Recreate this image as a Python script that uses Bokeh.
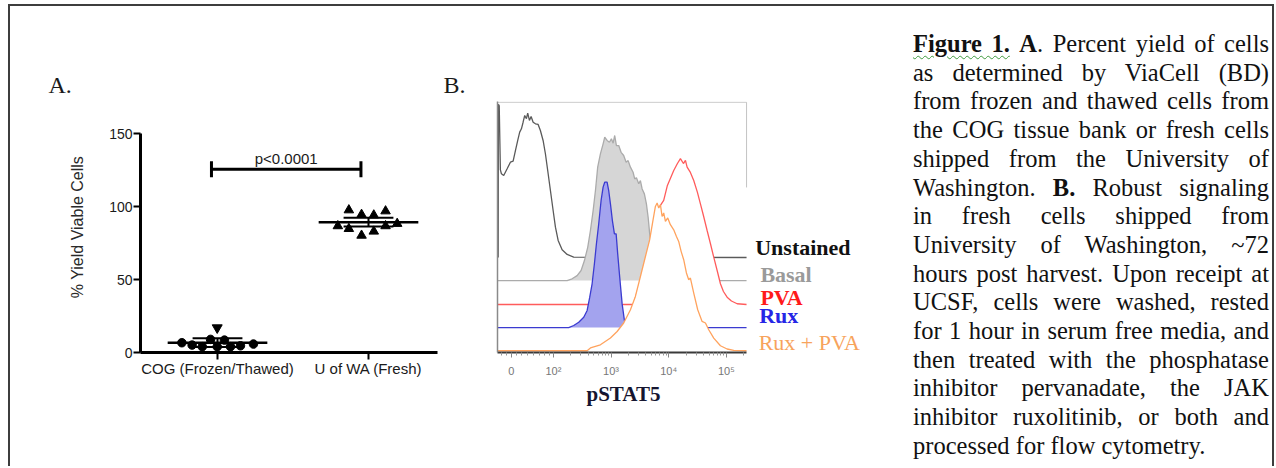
import numpy as np
from bokeh.plotting import figure
from bokeh.models import FixedTicker, Label, Range1d, Div, Title
from bokeh.layouts import row
from bokeh.embed import file_html
from bokeh.resources import INLINE

# ---------------- Panel A data ----------------
groups = ["COG (Frozen/Thawed)", "U of WA (Fresh)"]
group_pos = [1, 2]
group_mean = [6.7, 89.4]
group_err = [3.0, 3.0]
y_ticks_a = [0, 50, 100, 150]

cog_x = [0.764, 0.832, 0.899, 0.954, 0.998, 1.046, 1.086, 1.152, 1.238]
cog_y = [6.7, 5.1, 4.0, 9.0, 4.0, 8.5, 4.0, 4.6, 5.8]
cog_out_x = [0.998]
cog_out_y = [17.0]
uw_x = [1.797, 1.870, 1.870, 1.954, 1.954, 2.035, 2.035, 2.113, 2.113, 2.190]
uw_y = [86.8, 97.7, 84.9, 94.6, 80.3, 94.2, 83.1, 97.0, 86.8, 88.4]

p_text = "p<0.0001"
bracket_x = [0.96, 1.95]
bracket_y = 125.7

# ---------------- Panel B data ----------------
b_major_ticks = [1.27, 2, 3, 4, 5]
b_tick_labels = ["0", "10\u00b2", "10\u00b3", "10\u2074", "10\u2075"]
b_names = ["Unstained", "Basal", "PVA", "Rux", "Rux + PVA"]
b_offsets = [63.9, 48.1, 31.7, 15.9, 0.0]

unstained_x = [1.042, 1.046, 1.06, 1.08, 1.098, 1.138, 1.197, 1.254, 1.301, 1.341, 1.381, 1.415,
               1.445, 1.474, 1.502, 1.532, 1.554, 1.584, 1.613, 1.648, 1.688, 1.735, 1.774, 1.821,
               1.861, 1.901, 1.948, 1.995, 2.035, 2.082, 2.151, 2.238, 2.352, 5.35]
unstained_y = [0, 105, 104, 60, 57.4, 56.2, 60.8, 65.3, 66.0, 73.3, 80.2, 85.9,
               88.2, 92.7, 97.3, 95.1, 98.9, 93.9, 96.6, 92.7, 91.6, 91.2, 87.0, 80.2,
               71.1, 59.6, 45.9, 32.2, 20.8, 11.7, 5.3, 2.1, 0.2, 0]

basal_x = [1.03, 2.238, 2.324, 2.411, 2.480, 2.538, 2.595, 2.642, 2.689, 2.729, 2.768, 2.815,
           2.862, 2.890, 2.931, 2.971, 3.006, 3.036, 3.063, 3.093, 3.133, 3.174, 3.219, 3.261,
           3.296, 3.336, 3.382, 3.410, 3.440, 3.480, 3.509, 3.539, 3.578, 3.613, 3.643, 3.670,
           3.700, 3.740, 3.799, 3.856, 5.35]
basal_y = [0, 0, 1.2, 3.4, 6.9, 13.7, 22.8, 34.3, 48.0, 61.7, 77.7, 86.8,
           93.7, 98.2, 96.0, 94.8, 97.1, 94.1, 99.4, 92.5, 92.5, 87.9, 85.7, 81.1,
           82.2, 77.7, 74.2, 69.7, 70.4, 66.3, 68.5, 62.8, 59.4, 52.5, 43.4, 32.0,
           20.6, 9.1, 2.3, 0, 0]

pva_x = [1.03, 3.388, 3.509, 3.631, 3.735, 3.856, 3.913, 3.977, 4.087, 4.151, 4.203, 4.255,
         4.290, 4.319, 4.376, 4.434, 4.498, 4.550, 4.602, 4.666, 4.723, 4.781, 4.840, 4.897,
         4.949, 5.013, 5.088, 5.187, 5.35]
pva_y = [0, 0, 16.4, 32.2, 56.2, 67.9, 71.3, 81.6, 91.8, 96.6, 99.9, 96.6,
         98.7, 94.1, 90.5, 85.0, 76.8, 69.0, 61.0, 50.7, 41.8, 32.4, 23.3, 14.2,
         8.9, 5.0, 2.4, 0.5, 0]

rux_x = [1.03, 2.265, 2.352, 2.439, 2.526, 2.585, 2.630, 2.671, 2.711, 2.746, 2.786, 2.827,
         2.862, 2.890, 2.931, 2.959, 2.989, 3.023, 3.058, 3.088, 3.115, 3.150, 3.192, 3.232,
         3.266, 5.35]
rux_y = [0, 0, 1.4, 3.6, 7.1, 11.7, 20.8, 30.0, 43.7, 57.4, 71.1, 87.1,
         96.2, 99.6, 99.6, 93.9, 84.8, 73.3, 64.2, 64.2, 50.5, 34.5, 16.2, 4.8,
         0, 0]

ruxpva_x = [1.03, 2.585, 2.642, 2.815, 2.989, 3.105, 3.219, 3.336, 3.422, 3.509, 3.596, 3.670,
            3.729, 3.769, 3.799, 3.827, 3.856, 3.885, 3.913, 3.943, 3.983, 4.029, 4.087, 4.134,
            4.173, 4.215, 4.260, 4.307, 4.347, 4.376, 4.434, 4.503, 4.579, 4.637, 4.694, 4.781,
            4.897, 5.013, 5.128, 5.35]
ruxpva_y = [0, 0, 1.9, 4.1, 8.7, 13.2, 19.0, 28.1, 37.2, 50.9, 64.6, 76.1,
            89.8, 98.9, 101.2, 97.8, 100.1, 92.0, 94.4, 88.6, 91.0, 86.4, 82.9, 78.3,
            74.9, 68.1, 62.4, 53.3, 48.7, 49.8, 39.5, 28.1, 20.1, 19.0, 14.4, 8.7,
            3.4, 1.2, 0.2, 0]

# ---------------- Caption ----------------
caption_lines = [
    "Figure 1. A. Percent yield of cells",
    "as determined by ViaCell (BD)",
    "from frozen and thawed cells from",
    "the COG tissue bank or fresh cells",
    "shipped from the University of",
    "Washington. B. Robust signaling",
    "in fresh cells shipped from",
    "University of Washington, ~72",
    "hours post harvest. Upon receipt at",
    "UCSF, cells were washed, rested",
    "for 1 hour in serum free media, and",
    "then treated with the phosphatase",
    "inhibitor pervanadate, the JAK",
    "inhibitor ruxolitinib, or both and",
    "processed for flow cytometry.",
]

SANS = "Liberation Sans"
SERIF = "Liberation Serif"
H = 460
TOP = 95      # both frames start at the same height
BOTTOM = 114

# ================= Panel A =================
pa = figure(width=430, height=H, x_range=Range1d(0.49, 2.457), y_range=Range1d(0, 172.2),
            output_backend="svg", toolbar_location=None,
            min_border_left=130, min_border_right=3, min_border_top=TOP, min_border_bottom=BOTTOM)
pa.title = Title(text="A.", align="left", offset=-92, standoff=7, text_font=SERIF,
                 text_font_size="24px", text_font_style="normal", text_color="#1a1a1a")
pa.outline_line_color = None
pa.grid.visible = False
pa.background_fill_color = None

xa = pa.xaxis[0]
xa.ticker = FixedTicker(ticks=group_pos)
xa.major_label_overrides = {group_pos[0]: groups[0], group_pos[1]: groups[1]}
xa.axis_line_width = 3
xa.axis_line_color = "black"
xa.major_tick_line_width = 2
xa.major_tick_out = 7
xa.major_tick_in = 0
xa.minor_tick_line_color = None
xa.major_label_text_font = SANS
xa.major_label_text_font_size = "15px"
xa.major_label_text_color = "#1a1a1a"
xa.major_label_standoff = 0

ya = pa.yaxis[0]
ya.ticker = FixedTicker(ticks=y_ticks_a)
ya.bounds = (0, 150)
ya.axis_line_width = 3
ya.axis_line_color = "black"
ya.major_tick_line_width = 2
ya.major_tick_out = 7
ya.major_tick_in = 0
ya.minor_tick_line_color = None
ya.major_label_text_font = SANS
ya.major_label_text_font_size = "14px"
ya.major_label_text_color = "#1a1a1a"
ya.major_label_standoff = 1
ya.axis_label = "% Yield Viable Cells"
ya.axis_label_text_font = SANS
ya.axis_label_text_font_style = "normal"
ya.axis_label_text_font_size = "16px"
ya.axis_label_text_color = "#2a2a2a"
ya.axis_label_standoff = 20

half_w = 0.33
cap_w = 0.165
pa.segment(x0=[p - half_w for p in group_pos], x1=[p + half_w for p in group_pos],
           y0=group_mean, y1=group_mean, line_color="black", line_width=2.5)
pa.segment(x0=group_pos, x1=group_pos,
           y0=[m - e for m, e in zip(group_mean, group_err)],
           y1=[m + e for m, e in zip(group_mean, group_err)], line_color="black", line_width=2)
for sgn in (-1, 1):
    yy = [m + sgn * e for m, e in zip(group_mean, group_err)]
    pa.segment(x0=[p - cap_w for p in group_pos], x1=[p + cap_w for p in group_pos],
               y0=yy, y1=yy, line_color="black", line_width=2)

pa.scatter(cog_x, cog_y, marker="circle", size=8.5, color="black")
pa.scatter(cog_out_x, cog_out_y, marker="inverted_triangle", size=10, color="black")
pa.scatter(uw_x, uw_y, marker="triangle", size=9.5, color="black")

pa.segment(x0=[bracket_x[0]], x1=[bracket_x[1]], y0=[bracket_y], y1=[bracket_y],
           line_color="black", line_width=3)
pa.segment(x0=bracket_x, x1=bracket_x, y0=[bracket_y - 5.5] * 2, y1=[bracket_y + 5.5] * 2,
           line_color="black", line_width=3)
pa.add_layout(Label(x=sum(bracket_x) / 2, y=bracket_y + 7.4, text=p_text, text_font=SANS,
                    text_font_size="15px", text_color="#1a1a1a", text_align="center",
                    text_baseline="middle"))

# ================= Panel B =================
X_START, X_END, Y_TOP = 1.03, 5.35, 170.8   # edges of the histogram box
pb = figure(width=450, height=H, x_range=Range1d(X_START, 7.847), y_range=Range1d(-1.2, Y_TOP),
            output_backend="svg", toolbar_location=None,
            min_border_left=57, min_border_right=0, min_border_top=TOP, min_border_bottom=BOTTOM)
pb.title = Title(text="B.", align="left", offset=-54, standoff=7, text_font=SERIF,
                 text_font_size="24px", text_font_style="normal", text_color="#1a1a1a")
pb.outline_line_color = None
pb.grid.visible = False
pb.background_fill_color = None

fills = ["white", "#d6d6d6", "white", "#a3a3ee", "white"]
lines = ["#5a5a5a", "#ababab", "#ff5c5c", "#3b3bd0", "#ffa35e"]
series = [(unstained_x, unstained_y), (basal_x, basal_y), (pva_x, pva_y),
          (rux_x, rux_y), (ruxpva_x, ruxpva_y)]
for (sx, sy), off, fc, lc in zip(series, b_offsets, fills, lines):
    sx = np.array(sx, dtype=float)
    top = np.array(sy, dtype=float) + off
    pb.varea(x=sx, y1=np.full_like(sx, off), y2=top, fill_color=fc, fill_alpha=1.0)
    pb.line(sx, top, line_color=lc, line_width=1.3)

# box border: top edge and upper part of the right edge
pb.segment(x0=[X_START], x1=[X_END], y0=[Y_TOP - 0.5], y1=[Y_TOP - 0.5],
           line_color="#c4c4c4", line_width=1)
pb.segment(x0=[X_END], x1=[X_END], y0=[111.9], y1=[Y_TOP - 0.5],
           line_color="#c4c4c4", line_width=1)

xb = pb.xaxis[0]
minor = [d + np.log10(k) for d in (2, 3, 4) for k in range(2, 10)] + [5 + np.log10(2)]
minor += [1.1, 1.18, 1.36, 1.45, 1.55, 1.65, 1.75, 1.85, 1.93]
xb.ticker = FixedTicker(ticks=b_major_ticks, minor_ticks=sorted(minor))
xb.bounds = (X_START, X_END)
xb.major_label_overrides = dict(zip(b_major_ticks, b_tick_labels))
xb.axis_line_color = "#3a3a3a"
xb.axis_line_width = 2
xb.major_tick_line_color = "#888888"
xb.minor_tick_line_color = "#999999"
xb.major_tick_out = 5
xb.major_tick_in = 0
xb.minor_tick_out = 3
xb.minor_tick_in = 0
xb.major_label_text_font = SANS
xb.major_label_text_font_size = "11px"
xb.major_label_text_color = "#777777"
xb.major_label_standoff = 7

pb.add_layout(Title(text="pSTAT5", align="left", offset=89, standoff=0, text_font=SERIF,
                    text_font_size="21px", text_font_style="bold", text_color="#151530"),
              "below")

yb = pb.yaxis[0]
yb.ticker = FixedTicker(ticks=[])
yb.axis_line_color = "#8a8a8a"
yb.axis_line_width = 1.5
yb.major_label_text_font_size = "0px"
yb.major_tick_line_color = None
yb.minor_tick_line_color = None

legend_x = [5.50, 5.59, 5.59, 5.57, 5.56]
legend_y = [70.7, 52.2, 36.7, 23.9, 5.8]
legend_colors = ["#111111", "#9a9a9a", "#ff1a1a", "#2626e6", "#f7a35c"]
legend_styles = ["bold", "bold", "bold", "bold", "normal"]
for name, lx, ly, lc, st in zip(b_names, legend_x, legend_y, legend_colors, legend_styles):
    pb.add_layout(Label(x=lx, y=ly, text=name, text_font=SERIF, text_font_style=st,
                        text_font_size="22px", text_color=lc, text_baseline="middle",
                        text_align="left"))

# ================= Caption =================
def fmt(line):
    line = line.replace("Figure 1.", '<b style="text-decoration: underline wavy #3f9a3f; '
                        'text-decoration-thickness: 1px; text-underline-offset: 3px;">Figure 1.</b>')
    line = line.replace(" A. ", " <b>A</b>. ")
    line = line.replace("Washington. B. ", "Washington. <b>B.</b> ")
    return line

rows_html = []
for i, ln in enumerate(caption_lines):
    if i < len(caption_lines) - 1:
        st = "text-align: justify; text-align-last: justify;"
    else:
        st = "text-align: left;"
    rows_html.append(f'<div style="{st}">{fmt(ln)}</div>')
html = ('<div style="font-family: \'Liberation Serif\', \'Times New Roman\', serif; font-size: 24.5px; '
        'line-height: 28.7px; color: #111; padding: 24px 3px 0 23px; box-sizing: border-box; '
        'width: 382px;">' + "".join(rows_html) + "</div>")
cap = Div(text=html, width=382, height=H, margin=(0, 0, 0, 0), styles={"overflow": "hidden"})

border = "2px solid #3d3d3d"
layout = row(pa, pb, cap, styles={"border-top": border, "border-left": border,
                                  "border-right": border, "margin-top": "4px",
                                  "margin-left": "8px"})

open("out.html", "w").write(file_html(layout, INLINE))
